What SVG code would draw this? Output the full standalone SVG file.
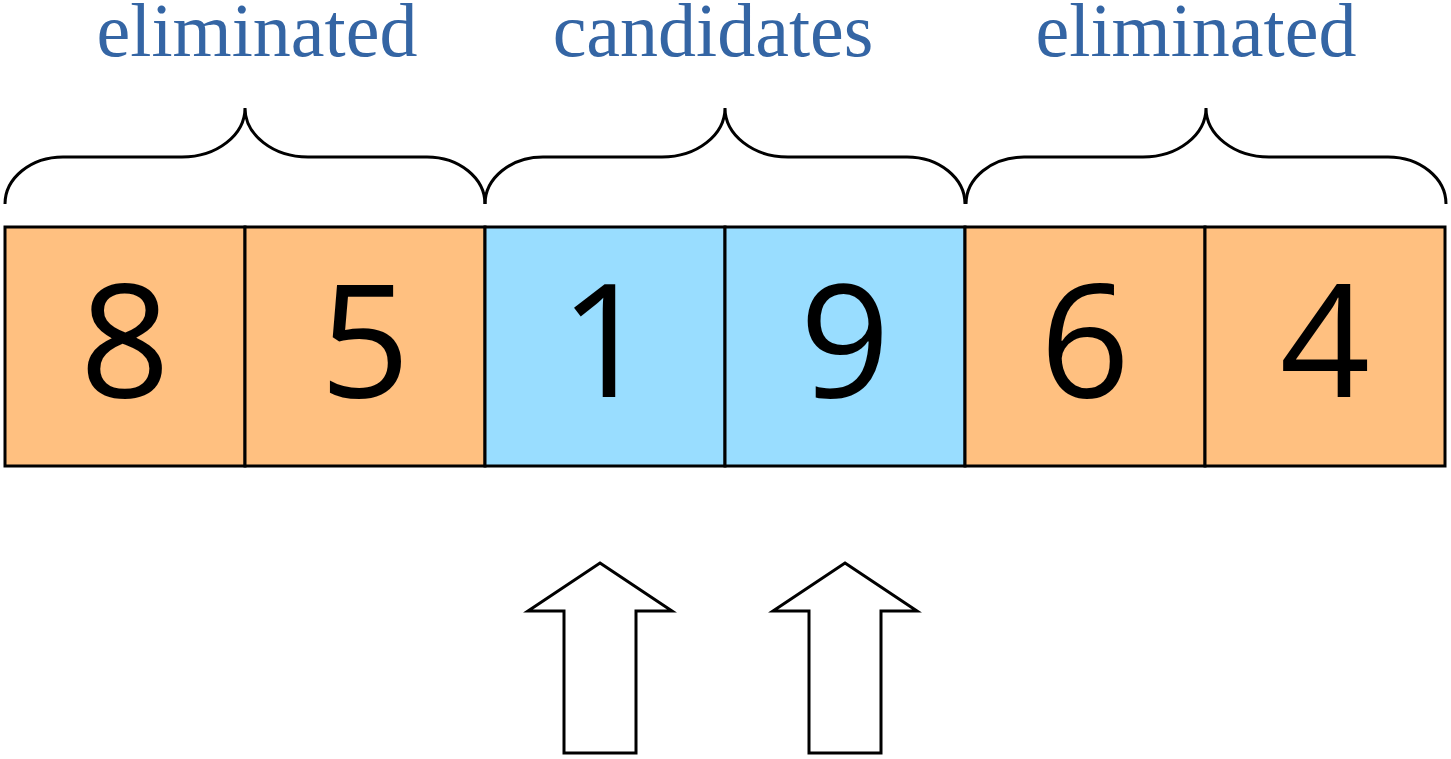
<svg xmlns="http://www.w3.org/2000/svg" width="1451" height="759" viewBox="0 0 1451 759">
  <style>
    .label { font-family: "Liberation Serif", "Times New Roman", serif; font-size: 76px; fill: #3465a4; text-anchor: middle; }
    .cell { stroke: #000; stroke-width: 3; }
    .elim { fill: #ffc080; }
    .cand { fill: #99ddff; }
    .num { font-family: "Open Sans", "DejaVu Sans", sans-serif; font-size: 158px; fill: #000; text-anchor: middle; }
    .brace, .arrow { fill: none; stroke: #000; stroke-width: 3; stroke-linejoin: miter; }
    .arrow { fill: #fff; }
  </style>
  <defs>
    <!-- curly brace spanning two cells (480 wide), origin at the left foot -->
    <path id="brace" d="M0,96 A58,47 0 0 1 58,49 L177,49 A63,49 0 0 0 240,0 A63,49 0 0 0 303,49 L422,49 A58,47 0 0 1 480,96"/>
    <!-- hollow block arrow, origin at the tip -->
    <path id="up-arrow" d="M0,0 L72,48 L36,48 L36,190 L-36,190 L-36,48 L-72,48 Z"/>
  </defs>

  <rect width="1451" height="759" fill="#fff"/>

  <!-- group labels -->
  <g id="labels">
    <text class="label" x="257" y="56">eliminated</text>
    <text class="label" x="713" y="56">candidates</text>
    <text class="label" x="1196" y="56">eliminated</text>
  </g>

  <!-- braces over each pair of cells -->
  <g id="braces" class="brace">
    <use href="#brace" x="5" y="108"/>
    <use href="#brace" x="485" y="108"/>
    <use href="#brace" x="966" y="108"/>
  </g>

  <!-- array cells -->
  <g id="cell-0"><rect class="cell elim" x="5" y="227" width="240" height="239"/><text class="num" x="125" y="397">8</text></g>
  <g id="cell-1"><rect class="cell elim" x="245" y="227" width="240" height="239"/><text class="num" x="365" y="397">5</text></g>
  <g id="cell-2"><rect class="cell cand" x="485" y="227" width="240" height="239"/><text class="num" x="605" y="397">1</text></g>
  <g id="cell-3"><rect class="cell cand" x="725" y="227" width="240" height="239"/><text class="num" x="845" y="397">9</text></g>
  <g id="cell-4"><rect class="cell elim" x="965" y="227" width="240" height="239"/><text class="num" x="1085" y="397">6</text></g>
  <g id="cell-5"><rect class="cell elim" x="1205" y="227" width="240" height="239"/><text class="num" x="1325" y="397">4</text></g>

  <!-- pointers into the candidate range -->
  <g id="connectors" class="arrow">
    <use href="#up-arrow" x="600" y="563"/>
    <use href="#up-arrow" x="845" y="563"/>
  </g>
</svg>
